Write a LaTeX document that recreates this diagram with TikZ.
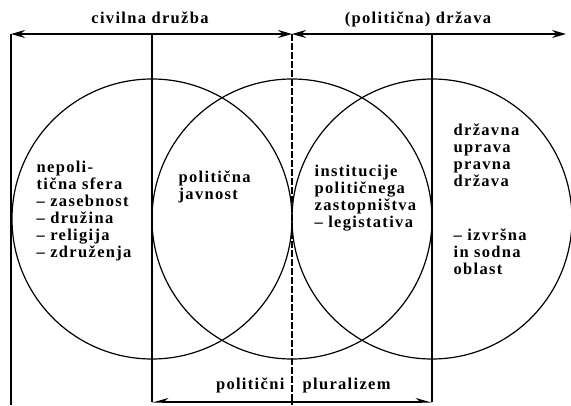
\documentclass[tikz,border=0pt]{standalone}
\usepackage{fontspec}
\setmainfont{Liberation Serif}
\newfontfamily\lblfont{Liberation Serif}[LetterSpace=8]
\usetikzlibrary{arrows.meta}
\begin{document}
\begin{tikzpicture}[x=1pt,y=-1pt,
  line width=1.3pt,
  lbl/.style={font=\lblfont\bfseries\fontsize{16.5}{17}\selectfont, inner sep=0pt, align=left, anchor=base west},
  ttl/.style={font=\lblfont\bfseries\fontsize{16.5}{17}\selectfont, inner sep=0pt, anchor=base},
  ring/.style={line width=1.2pt}]
\useasboundingbox (0,0) rectangle (571,405);
% coordinates
\coordinate (tl) at (11,34);
\coordinate (t1) at (152,34);
\coordinate (tm) at (292,34);
\coordinate (t2) at (432,34);
\coordinate (tr) at (566,34);
\coordinate (bl) at (11,405);
\coordinate (b1) at (152,402);
\coordinate (bm) at (292,405);
\coordinate (b2) at (432,402);
% circles
\draw[ring] (152,219) circle[radius=140pt];
\draw[ring] (292,219) circle[radius=140pt];
\draw[ring] (432,219) circle[radius=140pt];
% verticals
\draw (tl) -- (bl);
\draw (t1) -- (b1);
\draw[dash pattern=on 7pt off 2pt] (tm) -- (bm);
\draw (t2) -- (b2);
% top arrows
\draw[{Stealth[length=14pt,width=8pt]}-{Stealth[length=14pt,width=8pt]}] (tl) -- (tm);
\draw[{Stealth[length=14pt,width=8pt]}-{Stealth[length=14pt,width=8pt]}] (tm) -- (tr);
% bottom arrow
\draw[{Stealth[harpoon,swap,length=14pt,width=8pt]}-{Stealth[harpoon,length=14pt,width=8pt]}] (b1) -- (b2);
% titles
\node[ttl] (cd) at (150,23) {civilna družba};
\node[ttl] (pd) at (418,23) {(politična) država};
% texts (anchor = baseline of last line)
\node[lbl] (np) at (36,257) {nepoli-\\tična sfera\\– zasebnost\\– družina\\– religija\\– združenja};
\node[lbl] (pj) at (178,199) {politična\\javnost};
\node[lbl] (ip) at (314,227) {institucije\\političnega\\zastopništva\\– legistativa};
\node[lbl] (du) at (453,186) {državna\\uprava\\pravna\\država};
\node[lbl] (iz) at (453,274) {– izvršna\\in sodna\\oblast};
\node[lbl, anchor=base east] (pl1) at (285,389) {politični};
\node[lbl] (pl2) at (302,389) {pluralizem};
\end{tikzpicture}
\end{document}
